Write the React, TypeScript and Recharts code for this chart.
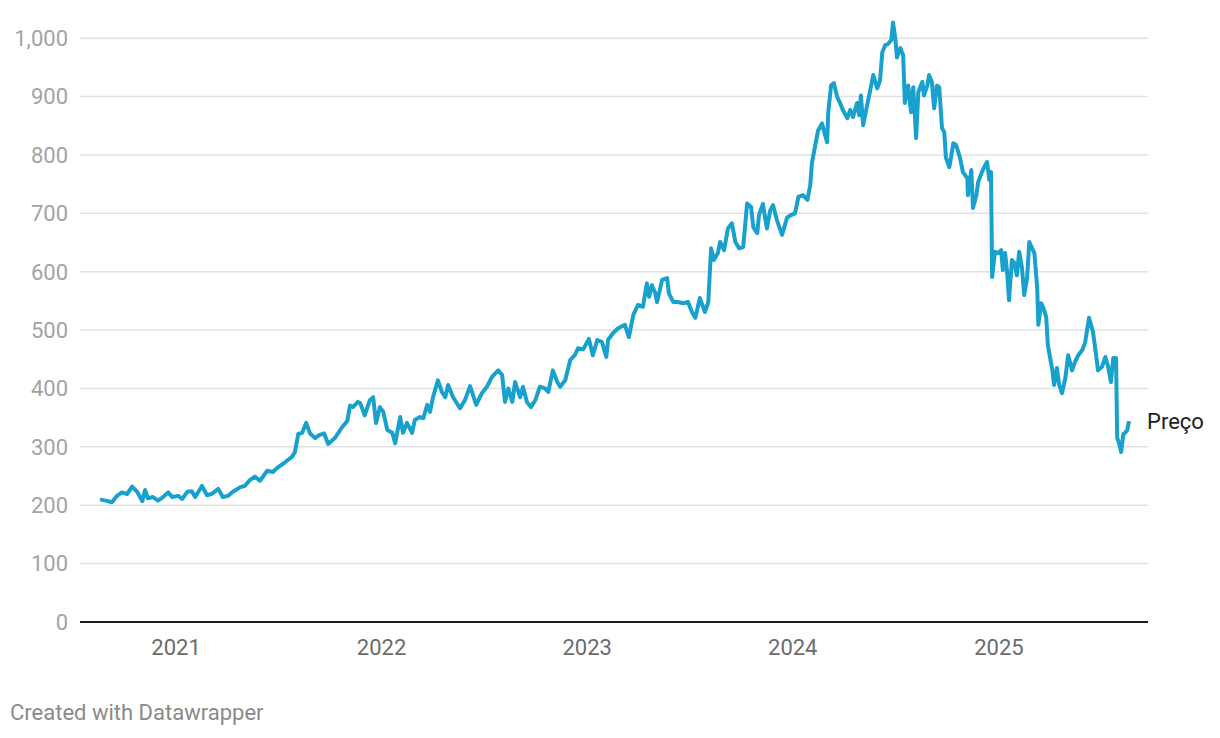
import React from "react";
import { LineChart, Line, XAxis, YAxis, CartesianGrid, LabelList } from "recharts";

const dates = [
  "2020-08-19", "2020-09-02", "2020-09-09", "2020-09-18", "2020-09-27", "2020-10-06", "2020-10-15", "2020-10-24",
  "2020-11-02", "2020-11-07", "2020-11-12", "2020-11-21", "2020-11-30", "2020-12-09", "2020-12-18", "2020-12-25",
  "2021-01-05", "2021-01-12", "2021-01-21", "2021-01-29", "2021-02-04", "2021-02-16", "2021-02-25", "2021-03-06",
  "2021-03-17", "2021-03-25", "2021-04-03", "2021-04-12", "2021-04-25", "2021-05-03", "2021-05-12", "2021-05-21",
  "2021-05-30", "2021-06-12", "2021-06-22", "2021-07-01", "2021-07-14", "2021-07-26", "2021-07-31", "2021-08-06",
  "2021-08-13", "2021-08-20", "2021-08-27", "2021-09-05", "2021-09-12", "2021-09-21", "2021-09-28", "2021-10-10",
  "2021-10-23", "2021-11-01", "2021-11-06", "2021-11-11", "2021-11-20", "2021-11-24", "2021-12-02", "2021-12-11",
  "2021-12-17", "2021-12-22", "2021-12-29", "2022-01-04", "2022-01-11", "2022-01-20", "2022-01-25", "2022-02-03",
  "2022-02-08", "2022-02-15", "2022-02-24", "2022-03-01", "2022-03-10", "2022-03-16", "2022-03-23", "2022-03-28",
  "2022-04-02", "2022-04-11", "2022-04-18", "2022-04-24", "2022-04-29", "2022-05-08", "2022-05-20", "2022-05-29",
  "2022-06-07", "2022-06-18", "2022-06-28", "2022-07-07", "2022-07-16", "2022-07-27", "2022-08-03", "2022-08-08",
  "2022-08-14", "2022-08-21", "2022-08-26", "2022-09-04", "2022-09-09", "2022-09-16", "2022-09-23", "2022-10-01",
  "2022-10-09", "2022-10-18", "2022-10-24", "2022-11-01", "2022-11-09", "2022-11-14", "2022-11-23", "2022-12-02",
  "2022-12-10", "2022-12-16", "2022-12-25", "2023-01-04", "2023-01-11", "2023-01-19", "2023-01-27", "2023-02-04",
  "2023-02-07", "2023-02-16", "2023-02-25", "2023-03-09", "2023-03-16", "2023-03-24", "2023-04-01", "2023-04-10",
  "2023-04-17", "2023-04-21", "2023-04-26", "2023-05-02", "2023-05-05", "2023-05-14", "2023-05-23", "2023-05-26",
  "2023-06-03", "2023-06-11", "2023-06-20", "2023-06-29", "2023-07-06", "2023-07-12", "2023-07-20", "2023-07-29",
  "2023-08-04", "2023-08-09", "2023-08-14", "2023-08-21", "2023-08-25", "2023-09-01", "2023-09-08", "2023-09-15",
  "2023-09-21", "2023-09-28", "2023-10-05", "2023-10-12", "2023-10-19", "2023-10-23", "2023-10-30", "2023-11-02",
  "2023-11-09", "2023-11-16", "2023-11-22", "2023-11-27", "2023-12-04", "2023-12-13", "2023-12-22", "2023-12-29",
  "2024-01-05", "2024-01-11", "2024-01-19", "2024-01-27", "2024-02-01", "2024-02-04", "2024-02-10", "2024-02-15",
  "2024-02-22", "2024-02-26", "2024-03-02", "2024-03-04", "2024-03-09", "2024-03-14", "2024-03-20", "2024-03-25",
  "2024-03-30", "2024-04-07", "2024-04-12", "2024-04-17", "2024-04-24", "2024-04-28", "2024-05-01", "2024-05-05",
  "2024-05-12", "2024-05-17", "2024-05-23", "2024-05-30", "2024-06-04", "2024-06-08", "2024-06-13", "2024-06-18",
  "2024-06-24", "2024-06-27", "2024-07-01", "2024-07-04", "2024-07-10", "2024-07-15", "2024-07-18", "2024-07-24",
  "2024-07-29", "2024-08-02", "2024-08-07", "2024-08-11", "2024-08-18", "2024-08-21", "2024-08-27", "2024-08-30",
  "2024-09-04", "2024-09-08", "2024-09-13", "2024-09-17", "2024-09-22", "2024-09-26", "2024-09-29", "2024-10-05",
  "2024-10-12", "2024-10-17", "2024-10-24", "2024-10-29", "2024-11-06", "2024-11-07", "2024-11-13", "2024-11-16",
  "2024-11-22", "2024-11-25", "2024-12-02", "2024-12-08", "2024-12-11", "2024-12-15", "2024-12-18", "2024-12-20",
  "2024-12-25", "2024-12-31", "2025-01-05", "2025-01-08", "2025-01-12", "2025-01-16", "2025-01-19", "2025-01-24",
  "2025-01-28", "2025-02-02", "2025-02-06", "2025-02-11", "2025-02-15", "2025-02-20", "2025-02-24", "2025-03-01",
  "2025-03-05", "2025-03-10", "2025-03-12", "2025-03-17", "2025-03-21", "2025-03-26", "2025-03-29", "2025-04-06",
  "2025-04-09", "2025-04-14", "2025-04-18", "2025-04-23", "2025-04-29", "2025-05-04", "2025-05-11", "2025-05-16",
  "2025-05-22", "2025-05-29", "2025-06-03", "2025-06-10", "2025-06-17", "2025-06-21", "2025-06-26", "2025-07-03",
  "2025-07-09", "2025-07-14", "2025-07-19", "2025-07-23", "2025-07-28", "2025-07-30", "2025-08-02", "2025-08-06",
  "2025-08-10", "2025-08-13", "2025-08-17", "2025-08-20",
];

const prices = [
  210, 207, 205, 216, 222, 219, 232, 223,
  207, 226, 212, 214, 208, 214, 222, 214,
  216, 211, 223, 224, 214, 233, 217, 220,
  228, 214, 216, 223, 231, 233, 243, 249,
  242, 259, 257, 265, 274, 283, 291, 322,
  324, 341, 323, 315, 320, 323, 305, 315,
  334, 344, 371, 368, 377, 375, 354, 380,
  385, 341, 368, 360, 329, 324, 306, 351,
  324, 341, 324, 346, 351, 349, 372, 360,
  384, 414, 394, 385, 406, 385, 366, 380,
  404, 372, 392, 403, 420, 431, 423, 377,
  400, 377, 411, 385, 403, 377, 368, 380,
  403, 400, 394, 431, 411, 403, 414, 449,
  457, 469, 467, 485, 457, 483, 480, 454,
  483, 495, 503, 509, 488, 526, 543, 540,
  580, 557, 577, 563, 548, 586, 589, 563,
  548, 548, 546, 548, 531, 521, 555, 531,
  548, 640, 620, 632, 651, 637, 674, 683,
  651, 640, 642, 717, 711, 676, 666, 697,
  716, 674, 705, 714, 688, 663, 693, 697,
  700, 728, 731, 723, 748, 786, 817, 842,
  854, 839, 822, 873, 919, 923, 899, 889,
  877, 863, 877, 865, 889, 868, 902, 851,
  885, 908, 937, 914, 928, 976, 988, 990,
  997, 1027, 1000, 967, 983, 971, 889, 919,
  873, 916, 829, 908, 925, 902, 919, 937,
  925, 880, 919, 916, 846, 839, 795, 779,
  820, 817, 795, 771, 760, 731, 774, 709,
  731, 753, 771, 783, 788, 757, 771, 591,
  634, 632, 637, 603, 632, 594, 551, 620,
  616, 594, 634, 606, 560, 589, 651, 640,
  632, 572, 509, 546, 538, 522, 474, 431,
  406, 435, 406, 392, 418, 457, 431, 445,
  457, 466, 478, 521, 497, 469, 431, 437,
  454, 437, 411, 452, 452, 315, 308, 291,
  322, 324, 329, 344,
];

const yearTicks = [2021, 2022, 2023, 2024, 2025];
const valueTicks = [0, 100, 200, 300, 400, 500, 600, 700, 800, 900, 1000];
const seriesName = "Preço";

const data = dates.map((d, i) => ({ t: Date.parse(d), price: prices[i] }));
const xTicks = yearTicks.map((y) => Date.UTC(y, 0, 1));

const font = "Roboto, 'Noto Sans', sans-serif";

const EndLabel = (props: any) => {
  const { x, y, index } = props;
  if (index !== data.length - 1) return null;
  return (
    <text x={x + 18} y={y} dy="0.355em" fill="#1d1d1d" fontSize={22} fontFamily={font}>
      {seriesName}
    </text>
  );
};

export default function App() {
  return (
    <div style={{ position: "absolute", left: 0, top: 0, width: 1220, height: 738, background: "#fff" }}>
      <LineChart
        width={1220}
        height={738}
        data={data}
        margin={{ top: 9, right: 72, bottom: 76, left: 0 }}
      >
        <CartesianGrid
          vertical={false}
          horizontalValues={valueTicks.slice(1)}
          stroke="#e2e2e2"
          strokeWidth={1.5}
        />
        <XAxis
          dataKey="t"
          type="number"
          domain={["dataMin", "dataMax"]}
          padding={{ left: 20, right: 19 }}
          ticks={xTicks}
          tickFormatter={(v: number) => String(new Date(v).getUTCFullYear())}
          height={40}
          tickSize={0}
          tickMargin={17}
          axisLine={{ stroke: "#1d1d1d", strokeWidth: 2 }}
          tickLine={false}
          tick={{ fill: "#6b6b6b", fontSize: 22, fontFamily: font }}
        />
        <YAxis
          type="number"
          domain={[0, 1050]}
          ticks={valueTicks}
          tickFormatter={(v: number) => v.toLocaleString("en-US")}
          width={80}
          tickSize={0}
          tickMargin={12}
          axisLine={false}
          tickLine={false}
          tick={{ fill: "#a3a3a3", fontSize: 22, fontFamily: font }}
        />
        <Line
          type="linear"
          dataKey="price"
          name={seriesName}
          stroke="#18a1cd"
          strokeWidth={4}
          strokeLinejoin="round"
          dot={false}
          activeDot={false}
          isAnimationActive={false}
        >
          <LabelList dataKey="price" content={EndLabel} />
        </Line>
      </LineChart>
      <div
        style={{
          position: "absolute",
          left: 10,
          top: 700,
          fontFamily: font,
          fontSize: 22,
          color: "#8a8a8a",
        }}
      >
        Created with Datawrapper
      </div>
    </div>
  );
}
